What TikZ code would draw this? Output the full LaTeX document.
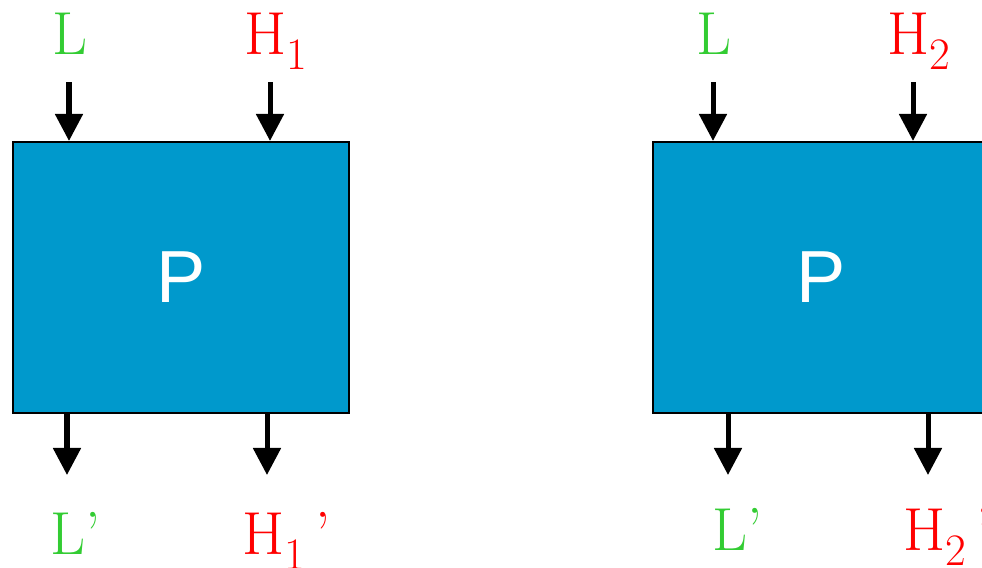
\documentclass[tikz,border=0pt]{standalone}
\usepackage{fontspec}
\newfontfamily\boxfont{Liberation Sans}
\usetikzlibrary{arrows.meta}

\definecolor{pBoxFill}{HTML}{0099CC}
\definecolor{pLowText}{HTML}{33CC33}
\definecolor{pHighText}{HTML}{FF0000}

\tikzset{
  pbox/.style={draw=black,line width=0.05cm,fill=pBoxFill,text=white,
    minimum width=8.4cm,minimum height=6.775cm,inner sep=0pt,
    font=\boxfont\fontsize{52.5}{60}\selectfont},
  lab/.style={anchor=base west,inner sep=0pt,font=\rmfamily\fontsize{43.2}{52}\selectfont},
  flow/.style={line width=0.125cm,-{Triangle[width=0.675cm,length=0.675cm]}},
}
\newcommand{\psub}[1]{\raisebox{-11.3pt}{\fontsize{32}{32}\selectfont #1}}

\begin{document}
\begin{tikzpicture}[x=0.025cm,y=-0.025cm]
  \useasboundingbox (0,0) rectangle (982,567);
  \clip (0,0) rectangle (982,567);

  % ---- boxes ----
  \node[pbox] (P1) at (181,277.5) {P};
  \node[pbox] (P2) at (821,277.5) {P};

  % ---- input labels ----
  \node[lab,text=pLowText]  (inL1) at (52,54)  {L};
  \node[lab,text=pHighText] (inH1) at (244,54) {H\psub{1}};
  \node[lab,text=pLowText]  (inL2) at (696,54) {L};
  \node[lab,text=pHighText] (inH2) at (887,54) {H\psub{2}};

  % ---- output labels ----
  \node[lab,text=pLowText]  (outL1) at (50,554)  {L’};
  \node[lab,text=pHighText] (outH1) at (242,554) {H\psub{1}\,’};
  \node[lab,text=pLowText]  (outL2) at (712,550) {L’};
  \node[lab,text=pHighText] (outH2) at (903,550) {H\psub{2}\,’};

  % ---- arrow ends ----
  \coordinate (aL1) at (69,82);
  \coordinate (aH1) at (270,82);
  \coordinate (aL2) at (713,82);
  \coordinate (aH2) at (913,82);
  \coordinate (bL1) at (67,475);
  \coordinate (bH1) at (267,475);
  \coordinate (bL2) at (728,475);
  \coordinate (bH2) at (928,475);

  % ---- arrows in ----
  \foreach \a/\b in {aL1/P1,aH1/P1,aL2/P2,aH2/P2}
    \draw[flow] (\a) -- (\a |- \b.north);

  % ---- arrows out ----
  \foreach \a/\b in {bL1/P1,bH1/P1,bL2/P2,bH2/P2}
    \draw[flow] (\a |- \b.south) -- (\a);
\end{tikzpicture}
\end{document}
